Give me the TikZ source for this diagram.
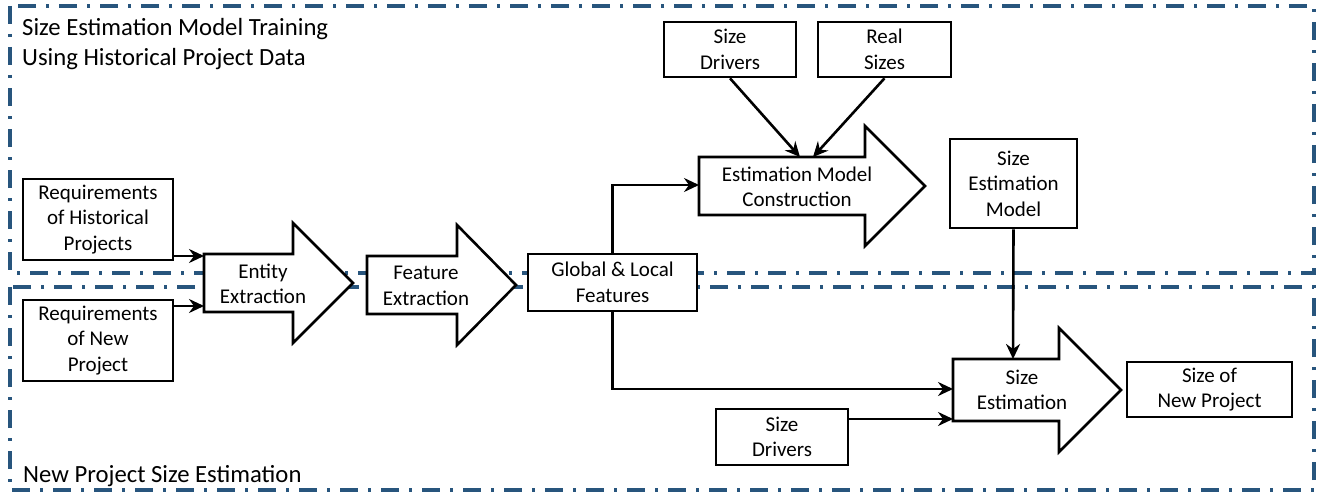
\documentclass[tikz,border=0pt]{standalone}
\usepackage{fontspec}
\setmainfont{Carlito}
\usetikzlibrary{arrows.meta}
\definecolor{frameblue}{RGB}{40,85,125}
\newcommand{\bxfont}{\fontsize{21}{25.5}\selectfont}
\newcommand{\lblfont}{\fontsize{24.7}{30.5}\selectfont}
\begin{document}
\begin{tikzpicture}[x=1pt,y=-1pt,
  frame/.style={draw=frameblue, line width=3.2pt, dash pattern=on 18pt off 10pt on 3pt off 10pt},
  box/.style={draw, line width=2.6pt, fill=white, align=center, inner sep=0pt, font=\bxfont},
  fat/.style={draw, line width=2.6pt, fill=white, line join=miter},
  txt/.style={align=center, inner sep=0pt, font=\bxfont},
  conn/.style={line width=2.6pt, -{Stealth[length=15pt,width=14pt,inset=5pt]}},
  ttl/.style={align=left, inner sep=0pt, font=\lblfont}
]
\useasboundingbox (0,0) rectangle (1317,495);

% frames
\draw[frame] (10,6) rectangle (1314,273);
\draw[frame] (10,287) rectangle (1314,490);

% titles
\node[ttl, anchor=base west] (ttltop) at (22,66) {Size Estimation Model Training\\Using Historical Project Data};
\node[ttl, anchor=base west] (ttlbot) at (23,482) {New Project Size Estimation};

% fat arrows
\draw[fat] (204,254) -- (293,254) -- (293,223) -- (353,283) -- (293,343) -- (293,312) -- (204,312) -- cycle;
\node[txt] (ent) at (263,284) {Entity\\Extraction};
\draw[fat] (367,256) -- (457,256) -- (457,225) -- (516,285) -- (457,345) -- (457,314) -- (367,314) -- cycle;
\node[txt] (feat) at (426,286) {Feature\\Extraction};
\draw[fat] (699,157) -- (865,157) -- (865,126) -- (925,186) -- (865,246) -- (865,215) -- (699,215) -- cycle;
\node[txt] (con) at (797,187) {Estimation Model\\Construction};
\draw[fat] (953,359) -- (1059,359) -- (1059,328) -- (1121,390) -- (1059,452) -- (1059,421) -- (953,421) -- cycle;
\node[txt] (se) at (1022,390) {Size\\Estimation};

% arrow entry points
\coordinate (entIn1) at (204,256);
\coordinate (entIn2) at (204,306);
\coordinate (conIn) at (699,185);
\coordinate (conTop1) at (800,157);
\coordinate (conTop2) at (813,157);
\coordinate (seIn1) at (953,389);
\coordinate (seIn2) at (953,419);
\coordinate (seTop) at (1013,359);

% boxes
\node[box, minimum width=150pt, minimum height=81pt] (reqH) at (98,219.5) {Requirements\\of Historical\\Projects};
\node[box, minimum width=150pt, minimum height=81pt] (reqN) at (98,340.5) {Requirements\\of New\\Project};
\node[box, minimum width=169pt, minimum height=57pt] (gl) at (612.5,282.5) {Global \& Local\\Features};
\node[box, minimum width=132pt, minimum height=55pt] (sdT) at (730,49.5) {Size\\Drivers};
\node[box, minimum width=133pt, minimum height=55pt] (rs) at (884.5,49.5) {Real\\Sizes};
\node[box, minimum width=127pt, minimum height=89pt] (sem) at (1013.5,183.5) {Size\\Estimation\\Model};
\node[box, minimum width=132pt, minimum height=56pt] (sdB) at (782,437) {Size\\Drivers};
\node[box, minimum width=165pt, minimum height=55pt] (snp) at (1209.5,389.5) {Size of\\New Project};

% connectors
\draw[conn] (reqH.east |- entIn1) -- (entIn1);
\draw[conn] (reqN.east |- entIn2) -- (entIn2);
\draw[conn] (gl.north) |- (conIn);
\draw[conn] (gl.south) |- (seIn1);
\draw[conn] (sdB.east |- seIn2) -- (seIn2);
\draw[conn] (sem.south) -- (seTop);
\draw[conn] (sdT.south) -- (conTop1);
\draw[conn] (rs.south) -- (conTop2);
\end{tikzpicture}
\end{document}
